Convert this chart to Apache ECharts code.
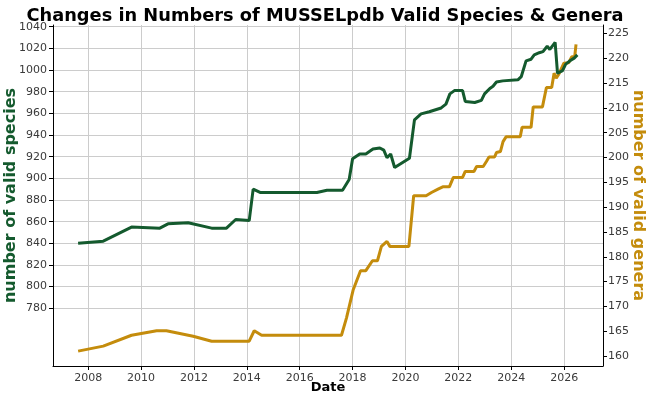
<!DOCTYPE html>
<html>
<head>
<meta charset="utf-8">
<script src="https://cdn.jsdelivr.net/npm/echarts@6/dist/echarts.min.js"></script>
<style>html,body{margin:0;padding:0;background:#fff}#c{width:650px;height:400px}</style>
</head>
<body>
<div id="c"></div>
<script>
// ---- data ----
const speciesYears = [2007.62, 2008.57, 2009.64, 2010.71, 2011.02, 2011.78, 2012.67, 2013.23, 2013.58, 2014.09, 2014.24, 2014.5, 2016.65, 2017.03, 2017.62, 2017.87, 2018.0, 2018.27, 2018.5, 2018.77, 2019.03, 2019.18, 2019.3, 2019.44, 2019.59, 2020.15, 2020.34, 2020.59, 2020.9, 2021.35, 2021.53, 2021.68, 2021.85, 2022.16, 2022.26, 2022.62, 2022.87, 2022.99, 2023.19, 2023.31, 2023.44, 2023.68, 2024.25, 2024.38, 2024.56, 2024.75, 2024.87, 2025.06, 2025.2, 2025.36, 2025.46, 2025.66, 2025.75, 2025.94, 2026.06, 2026.25, 2026.38, 2026.5];
const speciesCounts = [840, 842, 855, 854, 858, 859, 854, 854, 862, 861, 890, 887, 887, 889, 889, 899, 918, 922.5, 922.5, 927, 928, 926, 919, 922.5, 910, 918.5, 954, 959.5, 961.5, 965, 968.5, 978, 981, 981, 971, 970, 972, 978, 983, 985, 989, 990, 991, 994, 1008.5, 1010, 1014, 1016, 1017, 1022, 1019, 1025.5, 997, 999.5, 1005.5, 1009, 1011, 1014];
const generaYears = [2007.62, 2008.57, 2009.64, 2010.59, 2010.96, 2011.97, 2012.67, 2014.09, 2014.28, 2014.56, 2017.58, 2017.77, 2018.02, 2018.3, 2018.5, 2018.75, 2018.94, 2019.09, 2019.3, 2019.41, 2020.13, 2020.31, 2020.78, 2021.0, 2021.25, 2021.41, 2021.66, 2021.81, 2022.16, 2022.26, 2022.59, 2022.69, 2022.94, 2023.06, 2023.16, 2023.37, 2023.44, 2023.59, 2023.69, 2023.81, 2024.34, 2024.41, 2024.75, 2024.83, 2025.18, 2025.33, 2025.53, 2025.62, 2025.7, 2025.8, 2025.99, 2026.17, 2026.29, 2026.4, 2026.45];
const generaCounts = [161, 162, 164.2, 165.1, 165.1, 164, 163, 163, 165.1, 164.2, 164.2, 167.7, 173.3, 177.2, 177.2, 179.2, 179.2, 182.1, 183.1, 182.1, 182.1, 192.3, 192.3, 193, 193.7, 194.1, 194.1, 196, 196, 197.2, 197.2, 198.2, 198.2, 199.2, 200.1, 200.1, 201, 201.2, 203.2, 204.2, 204.2, 206.1, 206.1, 210.2, 210.2, 214.1, 214.1, 217, 216, 216.8, 219, 219.1, 220.3, 220.3, 222.8];
const yearTicks = [2008, 2010, 2012, 2014, 2016, 2018, 2020, 2022, 2024, 2026];
const speciesTicks = [780, 800, 820, 840, 860, 880, 900, 920, 940, 960, 980, 1000, 1020, 1040];
const generaTicks = [160, 165, 170, 175, 180, 185, 190, 195, 200, 205, 210, 215, 220, 225];

const GREEN = '#145a2e';
const GOLD = '#c48c0c';
const FONT = 'DejaVu Sans';

const chart = echarts.init(document.getElementById('c'), null, {renderer: 'canvas'});
const tickLabel = {color: '#3a3a3a', fontSize: 11, fontFamily: FONT, formatter: v => String(v)};
chart.setOption({
  animation: false,
  backgroundColor: '#fff',
  title: {
    text: 'Changes in Numbers of MUSSELpdb Valid Species & Genera',
    left: 'center', top: 2,
    textStyle: {fontFamily: FONT, fontWeight: 'bold', fontSize: 17.8, color: '#000'}
  },
  grid: {left: 53, right: 47, top: 25, bottom: 34, containLabel: false, outerBoundsMode: 'none'},
  xAxis: {
    type: 'value', min: 2006.67, max: 2027.47,
    name: 'Date', nameLocation: 'middle', nameGap: 15, nameMoveOverlap: false,
    nameTextStyle: {fontFamily: FONT, fontWeight: 'bold', fontSize: 13, color: '#000'},
    axisLine: {show: true, onZero: false, lineStyle: {color: '#000', width: 1}},
    axisTick: {show: true, length: 4, lineStyle: {color: '#000'}, customValues: yearTicks},
    axisLabel: Object.assign({customValues: yearTicks, margin: 7}, tickLabel),
    splitLine: {show: true, lineStyle: {color: '#cccccc', width: 1}}
  },
  yAxis: [{
    type: 'value', min: 726.7, max: 1041.6, position: 'left',
    name: 'number of valid species', nameLocation: 'middle', nameGap: 34, nameRotate: 90, nameMoveOverlap: false,
    nameTextStyle: {fontFamily: FONT, fontWeight: 'bold', fontSize: 16, color: GREEN},
    axisLine: {show: true, onZero: false, lineStyle: {color: '#000', width: 1}},
    axisTick: {show: true, length: 4, lineStyle: {color: '#000'}, customValues: speciesTicks},
    axisLabel: Object.assign({customValues: speciesTicks, margin: 6}, tickLabel),
    splitLine: {show: true, lineStyle: {color: '#cccccc', width: 1}}
  }, {
    type: 'value', min: 158, max: 226.7, position: 'right',
    name: 'number of valid genera', nameLocation: 'middle', nameGap: 27, nameRotate: -90, nameMoveOverlap: false,
    nameTextStyle: {fontFamily: FONT, fontWeight: 'bold', fontSize: 16, color: GOLD},
    axisLine: {show: true, onZero: false, lineStyle: {color: '#000', width: 1}},
    axisTick: {show: true, length: 4, lineStyle: {color: '#000'}, customValues: generaTicks},
    axisLabel: Object.assign({customValues: generaTicks, margin: 5}, tickLabel),
    splitLine: {show: false}
  }],
  series: [{
    type: 'line', yAxisIndex: 1, showSymbol: false, symbol: 'none',
    lineStyle: {color: GOLD, width: 3}, itemStyle: {color: GOLD},
    data: generaYears.map((x, i) => [x, generaCounts[i]])
  }, {
    type: 'line', yAxisIndex: 0, showSymbol: false, symbol: 'none',
    lineStyle: {color: GREEN, width: 3}, itemStyle: {color: GREEN},
    data: speciesYears.map((x, i) => [x, speciesCounts[i]])
  }]
});
</script>
</body>
</html>
